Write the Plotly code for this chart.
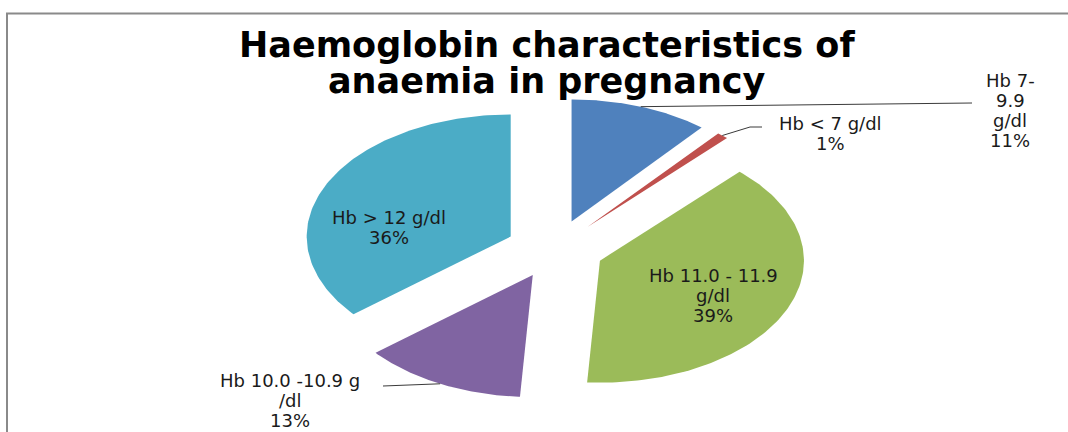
import numpy as np
import plotly.graph_objects as go

# Slices in clockwise order, starting at 12 o'clock
categories = ["Hb 7-9.9 g/dl", "Hb < 7 g/dl", "Hb 11.0 - 11.9 g/dl",
              "Hb 10.0 -10.9 g /dl", "Hb > 12 g/dl"]
shares = [11, 1, 39, 13, 36]
slice_labels = ["Hb 7-<br>9.9<br>g/dl", "Hb < 7 g/dl", "Hb 11.0 - 11.9<br>g/dl",
                "Hb 10.0 -10.9 g<br>/dl", "Hb > 12 g/dl"]
colors = ["#4F81BD", "#C0504D", "#9BBB59", "#8064A2", "#4BACC6"]
title_lines = ["Haemoglobin characteristics of", "anaemia in pregnancy"]

W, H = 1068, 432
# elliptical pie geometry (pixel units of the drawing area)
CX, CY = 555, 249
RX, RY = 204, 122
EXPLODE = 0.24

# label placement: (x, y of block centre, leader points after the arc midpoint)
label_layout = [
    (1010, 110, [(972, 103)]),
    (830, 133, [(750, 127), (762, 127)]),
    (713, 295, None),
    (290, 400, [(383, 386)]),
    (389, 227, None),
]
LINE_STEP = 20

LABEL_FONT = dict(family="DejaVu Sans", size=18, color="#1a1a1a")


def ellipse_point(theta_deg, ox, oy, scale=1.0):
    t = np.radians(theta_deg)
    return ox + scale * RX * np.sin(t), oy - scale * RY * np.cos(t)


fig = go.Figure()

total = float(sum(shares))
start = 0.0
annotations = []
for i, v in enumerate(shares):
    span = 360.0 * v / total
    end = start + span
    mid = start + span / 2
    # explode each slice along its bisector
    ox, oy = ellipse_point(mid, CX, CY, EXPLODE)
    thetas = np.linspace(start, end, 120)
    ax, ay = ellipse_point(thetas, ox, oy)
    xs = np.concatenate([[ox], ax, [ox]])
    ys = np.concatenate([[oy], ay, [oy]])
    fig.add_trace(go.Scatter(
        x=xs, y=ys, mode="lines", fill="toself",
        fillcolor=colors[i], line=dict(width=0, color=colors[i]),
        name=categories[i], hoverinfo="name", showlegend=False,
    ))

    lx, ly, leader = label_layout[i]
    if leader:
        mx, my = ellipse_point(mid, ox, oy)
        px = [mx] + [p[0] for p in leader]
        py = [my] + [p[1] for p in leader]
        fig.add_trace(go.Scatter(
            x=px, y=py, mode="lines",
            line=dict(color="#3a3a3a", width=1),
            hoverinfo="skip", showlegend=False,
        ))
    # one annotation per text line for a tight line pitch
    lines = f"{slice_labels[i]}<br>{v}%".split("<br>")
    n = len(lines)
    for k, line in enumerate(lines):
        annotations.append(dict(
            x=lx, y=ly + (k - (n - 1) / 2) * LINE_STEP, xref="x", yref="y",
            text=line, showarrow=False, align="center",
            xanchor="center", yanchor="middle", font=LABEL_FONT,
        ))
    start = end

# two-line bold title
for text, yc in zip(title_lines, [45, 81]):
    annotations.append(dict(
        x=547, y=yc, xref="x", yref="y", text=f"<b>{text}</b>",
        showarrow=False, xanchor="center", yanchor="middle",
        font=dict(family="DejaVu Sans", size=35, color="#000000"),
    ))

frame = "#8a8a8a"
fig.update_layout(
    width=W, height=H, autosize=False,
    margin=dict(l=0, r=0, t=0, b=0),
    paper_bgcolor="white", plot_bgcolor="white",
    xaxis=dict(range=[0, W], visible=False, fixedrange=True),
    yaxis=dict(range=[H, 0], visible=False, fixedrange=True),
    annotations=annotations,
    shapes=[
        dict(type="line", xref="x", yref="y", x0=6, x1=W, y0=13.5, y1=13.5,
             line=dict(color=frame, width=2)),
        dict(type="line", xref="x", yref="y", x0=7, x1=7, y0=13, y1=H,
             line=dict(color=frame, width=2)),
    ],
)

fig.write_html("out.html")
